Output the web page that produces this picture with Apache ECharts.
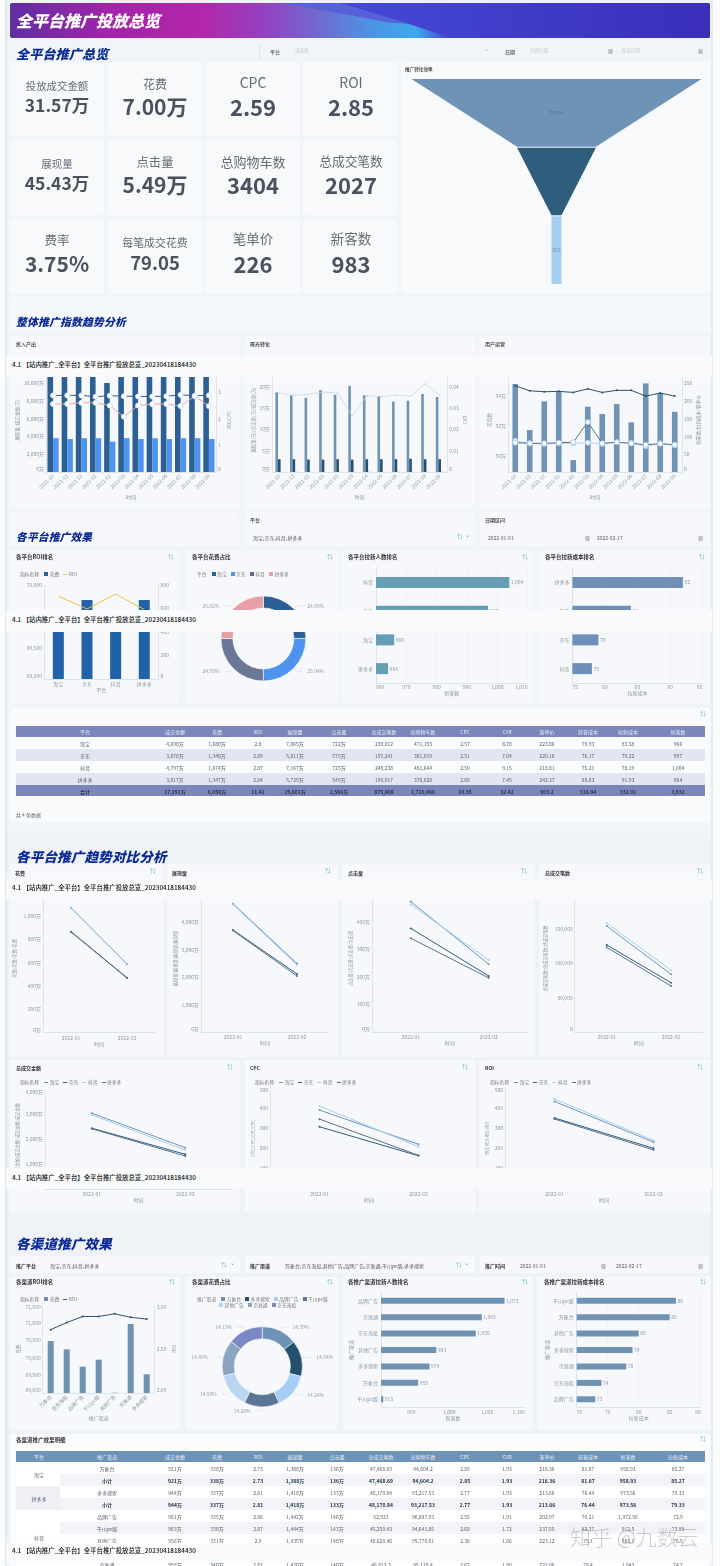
<!DOCTYPE html>
<html><head><meta charset="utf-8">
<script src="https://cdn.jsdelivr.net/npm/echarts@6/dist/echarts.min.js"></script>
<style>
html,body{margin:0;padding:0;width:720px;height:1566px;overflow:hidden;background:#fbfcfd}
body,div,span{font-family:"Noto Sans CJK SC","Noto Sans",sans-serif}
#root{position:absolute;left:0;top:0;width:720px;height:1566px;overflow:hidden}
#c{position:absolute;left:0;top:0;width:720px;height:1566px;z-index:2}
.a{position:absolute;white-space:nowrap}
.p{position:absolute;background:#f6f8fb;border-radius:2px}
.band{position:absolute;left:6px;width:706px;background:#f8fafc;z-index:3}
.o{z-index:4}
</style></head><body><div id="root"><div id="c"></div></div>
<script>
// ---------- data ----------
const months=['2021-10','2021-11','2021-12','2022-01','2022-02','2022-03','2022-04','2022-05','2022-06','2022-07','2022-08','2022-09'];
const platforms=['淘宝','京东','抖音','拼多多'];
const trendMonths=['2022-01','2022-02'];
const kpiLabels=['投放成交金额','花费','CPC','ROI','展现量','点击量','总购物车数','总成交笔数','费率','每笔成交花费','笔单价','新客数'];
const kpiValues=['31.57万','7.00万','2.59','2.85','45.43万','5.49万','3404','2027','3.75%','79.05','226','983'];
const funnelNames=['展现量','点击量','成交'];
const funnelValues=[70004,17800,802];
const revenue=[10900,10900,10900,10900,10000,10900,10900,10900,10900,10900,10900,10900];
const spend=[3800,3700,3800,3800,3400,3800,3700,3800,3700,3800,3800,3700];
const roiA=[2.88,2.88,2.88,2.83,2.87,2.85,2.84,2.84,2.85,2.9,2.87,2.88];
const roiB=[2.56,2.56,2.6,2.6,2.5,2.08,2.5,2.55,2.56,2.48,2.85,2.48];
const impressions=[18.7,18,17.4,19.2,18.1,20.2,18,17.8,16.5,16.7,18.3,17.6];
const clicks=[3,3,2.9,2.9,3,2.9,3,3,3,3.1,3,3];
const orders=[0.1,0.1,0.1,0.1,0.1,0.1,0.1,0.1,0.1,0.1,0.1,0.1];
const cvrLine=[0.037,0.036,0.0365,0.0375,0.037,0.0264,0.0358,0.0353,0.0361,0.0355,0.0413,0.0361];
const activeUsers=[54.77,51.72,53.62,54.26,49.73,53.26,52.78,53.44,52.23,54.81,54.15,52.93];
const activeTicks=[50,52,54];
const opsA=[243.8,229.6,226.8,228,225,235,225,230.8,230.8,214.7,223,214.7];
const opsB=[82.8,81,81,82.8,84,141,81,84,81,77,80,77];
const opsC=[88,81,79,81,81,82.8,79,84,82.8,73,81,75];
const platformSpend=[70000,70260,70000,70260];
const platformRoi=[706,596,723,591];
const platformShare=[24.99,25.04,24.95,25.02];
const newUserPlatforms=['抖音','京东','淘宝','拼多多'];
const newUserCounts=[1004,997,966,964];
const newCostPlatforms=['拼多多','淘宝','京东','抖音'];
const newCosts=[92,84,79,78];
const platformHeader=['平台','成交金额','花费','ROI','展现量','点击量','总成交笔数','总购物车数','CPC','CVR','客单价','获客成本','拉新成本','新客数'];
const platformRows=[
['淘宝','4,698万','1,680万','2.8','7,065万','722万','239,012','471,193','2.57','8.78','223.86','79.93','83.58','966'],
['京东','3,878万','1,348万','2.89','5,811万','575万','197,241','381,019','2.51','7.04','220.16','76.17','79.22','997'],
['抖音','4,797万','1,674万','2.87','7,167万','725万','248,238','481,644','2.59','9.15','218.81','75.21','78.19','1,004'],
['拼多多','3,817万','1,347万','2.84','5,729万','549万','190,917','378,628','2.68','7.45','242.37','85.63','91.93','964'],
['合计','17,191万','6,050万','11.41','25,601万','2,566万','875,408','1,710,466','10.35','32.42','903.2','316.94','332.91','3,932']];
const trendSpend=[[1074,589],[868,470],[1070,585],[865,468]];
const trendImpr=[[4680,2500],[3722,2117],[4650,2445],[3700,2044]];
const trendClicks=[[474,247],[377,204],[464,262],[341,197]];
const trendOrders=[[154000,84000],[126500,71700],[158000,90000],[123000,67000]];
const trendRevenue=[[3044,1657],[2440,1391],[2976,1565],[2420,1322]];
const trendCpc=[[390,220],[307,163],[410,208],[345,165]];
const trendRoi=[[433,231],[351,200],[445,239],[346,192]];
const channels=['万象台','京东海投','品牌广告','千川pc版','其他广告','京准通','多多搜索'];
const channelSpend=[70477,70241,69748,69946,69008,70960,69531];
const channelRoi=[2.72,2.80,2.87,2.87,2.90,2.86,2.84];
const shareChannels=['万象台','多多搜索','品牌广告','千川pc版','其他广告','京准通','京东海投'];
const channelShare=[14.39,14.54,14.24,14.28,14.00,14.49,14.19];
const newUserChannels=['品牌广告','京准通','京东海投','其他广告','多多搜索','万象台','千川pc版'];
const channelNewUsers=[1073,1043,1035,983,974,959,913];
const newUserTicks=[950,1000,1050,1100];
const newCostChannels=['千川pc版','万象台','其他广告','多多搜索','京准通','京东海投','品牌广告'];
const channelNewCosts=[86,85,80,79,78,74,73];
const channelHeader=['平台','推广渠道','成交金额','花费','ROI','展现量','点击量','总成交笔数','总购物车数','CPC','CVR','客单价','获客成本','新客数','拉新成本'];
const channelRows=[
['','万象台','921万','338万','2.73','1,388万','136万','47,468.69','94,604.2','2.85','1.93','216.36','81.67','958.93','85.27'],
['','小计','921万','338万','2.73','1,388万','136万','47,468.69','94,604.2','2.85','1.93','216.36','81.67','958.93','85.27'],
['','多多搜索','944万','337万','2.81','1,418万','133万','48,170.84','93,217.53','2.77','1.93','213.66','76.44','973.56','79.33'],
['','小计','944万','337万','2.81','1,418万','133万','48,170.84','93,217.53','2.77','1.93','213.66','76.44','973.56','79.33'],
['','品牌广告','981万','335万','2.88','1,442万','146万','52,923','96,807.93','2.55','1.91','202.97','70.21','1,072.56','72.9'],
['','千川pc版','963万','338万','2.87','1,444万','143万','45,259.43','94,641.85','2.68','1.72','237.55','82.37','912.5','73.89'],
['','其他广告','956万','331万','2.9','1,435万','148万','48,620.46','95,770.61','2.38','1.66','223.12','75.1','983.1','76.5'],
['','小计','2,900万','1,004万','2.88','4,321万','437万','146,803','287,220','2.54','1.76','218.5','76.2','2,968','75.1'],
['','京准通','958万','340万','2.82','1,420万','140万','46,812.3','95,120.4','2.62','1.80','221.06','78.4','1,043','74.2']];

// ---------- page helpers ----------
const root=document.getElementById('root');
const FONT='"Noto Sans CJK SC"';
const AX='#8d96a5', AXL='#dfe4ea', SPL='#eef1f5';
function box(x0,y0,x1,y1,bg,z){const d=document.createElement('div');d.className='p';d.style.cssText=`left:${x0}px;top:${y0}px;width:${x1-x0}px;height:${y1-y0}px;`+(bg?`background:${bg};`:'')+(z?`z-index:${z};`:'');root.appendChild(d);return d;}
function txt(s,x,y,size,color,opt={}){const d=document.createElement('div');d.className='a';
 const tx=opt.align==='center'?'-50%':opt.align==='right'?'-100%':'0';
 d.style.cssText=`left:${x}px;top:${y}px;font-size:${size}px;color:${color};line-height:1;transform:translate(${tx},-50%);z-index:${opt.z||3};font-weight:${opt.w||400};font-style:${opt.i?'italic':'normal'};`+(opt.css||'');
 d.textContent=s;root.appendChild(d);return d;}
function sect(s,x,y,size){txt(s,x,y,size,'#0b2a94',{w:900,i:true,css:'letter-spacing:.2px;'});}
function panelTitle(s,x,y){txt(s,x,y,5.5,'#333',{w:700});}
function toggle(x,y){txt('⇅',x,y,6,'#72c4b6',{align:'center'});}
function legend(x,y,title,items){let cx=x;txt(title,cx,y,4.8,'#777');cx+=title.length*4.8+5;
 items.forEach(it=>{if(it.nl){cx=it.nl;y+=6;}
  const m=document.createElement('div');m.className='a';
  m.style.cssText=it.line?`left:${cx}px;top:${y-.5}px;width:4px;height:1px;background:${it.c};z-index:3`:`left:${cx}px;top:${y-2}px;width:4px;height:4px;background:${it.c};z-index:3`;
  root.appendChild(m);txt(it.n,cx+5.5,y,4.8,'#777');cx+=5.5+it.n.length*4.8+4;});}
function band(y0,y1,ty){const d=document.createElement('div');d.className='band';d.style.top=y0+'px';d.style.height=(y1-y0)+'px';root.appendChild(d);
 txt('4.1 【站内推广_全平台】全平台推广投放总览_20230418184430',12,ty,6.4,'#111',{z:4,w:500});}
function grid(x0,x1,top,heights,centers,header,rows,headBg,rowBg,bold){
 let y=top;const hdr=box(x0,y,x1,y+heights[0],headBg,2);hdr.style.borderRadius=0;
 header.forEach((h,i)=>txt(h,centers[i],y+heights[0]/2,5,'#e8ebf5',{align:'center'}));
 y+=heights[0];
 rows.forEach((r,ri)=>{const h=heights[1];const bg=box(x0,y,x1,y+h,rowBg(ri),1);bg.style.borderRadius=0;
  r.forEach((c,i)=>{if(c!=='')txt(c,centers[i],y+h/2,5,bold(ri)?'#26304a':'#555c6a',{align:'center',w:bold(ri)?700:400});});y+=h;});
}

// ---------- static layout ----------
box(5,0,7,1566,'#e4e8ee');box(711,0,713,1566,'#e8ebf0');
const inner=box(7,0,711,1566,'#eff3f7');inner.style.borderRadius=0;
const up=box(7,40,711,835,'#f1f4f8');up.style.borderRadius=0;
// title banner
const banner=box(10,3,710,38);banner.style.cssText+='background:linear-gradient(90deg,#5f2ea0 0%,#a224a9 14%,#b326a9 27%,#9540bf 36%,#6c6ed2 45%,#4a96e4 52%,#3fa8ec 58%,#4a4ed8 62%,#3b3fd0 85%,#3a2db8 100%);overflow:hidden;border-radius:2px;';
banner.innerHTML='<div style="position:absolute;inset:0;background:linear-gradient(90deg,#5050d8,#4448d4 50%,#3a2eba);clip-path:polygon(47% 0,100% 0,100% 100%,63% 100%,57% 60%)"></div><div style="position:absolute;inset:0;background:linear-gradient(90deg,#5a62d8,#5260da);clip-path:polygon(39% 0,47% 0,57% 60%,54% 55%)"></div>';
txt('全平台推广投放总览',16,20,16,'#fff',{w:900,i:true,z:4});
sect('全平台推广总览',16,52.5,13);
// top filter
box(259,44,259.6,60,'#dde2e8');
txt('平台',270,51,5,'#555',{w:500});txt('请选择',295,50,4.5,'#c6ccd4');txt('⌄',484,49,6,'#aaa');
txt('日期',505,51,5,'#555',{w:500});txt('开始日期',530,50,4.5,'#c6ccd4');txt('▦',608,50,5,'#777');txt('-',615,50,5,'#999');txt('结束日期',622,50,4.5,'#c6ccd4');txt('▦',698,50,5,'#777');
// KPI cards
const kx=[[10,104],[108,202],[205,300],[303,397]],ky=[[62,136],[140,215],[219,294]];
const labelFs=[10.4,12,14,14,10.5,12.3,13,12.7,12.5,10.9,13.3,13.6];
const valueFs=[17.5,21,22,22,17.5,21,22,22,21,18.5,22,22];
const labelY=[86,84,82,82,164,162,161,161,240,242,239,239];
const valueY=[105,106,106,106,183,184,184,184,263,262,263,263];
kpiLabels.forEach((l,i)=>{const c=i%4,r=Math.floor(i/4);box(kx[c][0],ky[r][0],kx[c][1],ky[r][1],'#f7f9fb');
 const xc=[57,155,253,351][c];
 txt(l,xc,labelY[i],labelFs[i],'#666c76',{align:'center'});
 txt(kpiValues[i],xc,valueY[i],valueFs[i],'#4a5260',{align:'center',w:600});});
box(401,62,710,294,'#f7f9fb');txt('推广转化效率',405,69,4.6,'#333',{w:500});
// section 2
box(10,296,710,332,'#f5f8fb');sect('整体推广指数趋势分析',16,321,10.8);
box(10,336,240,508);box(245,336,475,508);box(479,336,710,508);
txt('投入产出',16,343,5,'#333',{w:500});txt('曝光转化',250,343,5,'#333',{w:500});txt('用户运营',485,343,5,'#333',{w:500});
// section 3
box(10,512,239,546);box(245,512,475,546);box(480,512,710,546);
sect('各平台推广效果',16,537,10.7);
txt('平台',250,519,5,'#333',{w:500});txt('淘宝,京东,抖音,拼多多',253,537,5,'#555');txt('⌄',465,535,6,'#888');txt('⇅',457,537,6,'#72c4b6');
txt('日期区间',485,519,5,'#333',{w:500});txt('2022-01-01',488,537,5,'#555');txt('▦',585,537,5,'#777');txt('-',592,537,5,'#888');txt('2022-02-17',597,537,5,'#555');txt('▦',698,537,5,'#777');
[[10,179],[186,338],[342,533],[539,710]].forEach(([a,b])=>{box(a,551,b,704);toggle(b-8,557);});
panelTitle('各平台ROI排名',16,558);panelTitle('各平台花费占比',192,558);panelTitle('各平台拉新人数排名',348,558);panelTitle('各平台拉新成本排名',545,558);
legend(20,574,'指标名称',[{n:'花费',c:'#1f62a8'},{n:'ROI',c:'#f0c040',line:1}]);
legend(197,574,'平台',[{n:'淘宝',c:'#2c5f93'},{n:'京东',c:'#4e94ee'},{n:'抖音',c:'#5b6a8a'},{n:'拼多多',c:'#e8a0a8'}]);
// platform table
box(10,708,710,822,'#f8fafc');toggle(703,714);
grid(16,705,725.7,[11.3,11.9],[85,175,217,258,295,339,384,423,465,507,547,588,628,678],platformHeader,platformRows,'#7b87bb',r=>r===4?'#7b87bb':r%2?'#e3e6f0':'#fbfcfd',r=>r===4);
txt('共 4 条数据',16,814,5,'#666');
// section 4
sect('各平台推广趋势对比分析',16,857,13.5);
[[10,163],[167,338],[342,534],[539,710]].forEach(([a,b])=>{box(a,864,b,1057);toggle(b-10,871);});
txt('花费',15,872,5,'#333',{w:600});txt('展现量',172,872,5,'#333',{w:600});txt('点击量',348,872,5,'#333',{w:600});txt('总成交笔数',545,872,5,'#333',{w:600});
[[10,240],[245,475],[479,710]].forEach(([a,b])=>{box(a,1060,b,1213);toggle(b-10,1067);});
txt('总成交金额',16,1067,5,'#333',{w:600});txt('CPC',250,1067,5,'#333',{w:600});txt('ROI',485,1067,5,'#333',{w:600});
const lineColors=['#6f93b5','#2f5d7c','#a5cef5','#5c6f88'];
[20,255,490].forEach(x=>legend(x,1082,'指标名称',platforms.map((n,i)=>({n,c:lineColors[i],line:1}))));
// section 5
sect('各渠道推广效果',16,1244,13.5);
box(10,1256,240,1273);box(245,1256,475,1273);box(480,1256,708,1273);
txt('推广平台',16,1265,5,'#333',{w:700});txt('淘宝,京东,抖音,拼多多',50,1264.5,5,'#555');txt('⌄',230,1263,6,'#888');txt('⇅',221,1265,6,'#72c4b6');
txt('推广渠道',250,1265,5,'#333',{w:700});txt('万象台,京东海投,其他广告,品牌广告,京准通,千川pc版,多多搜索',285,1264.5,5,'#555');txt('⌄',464,1263,6,'#888');txt('⇅',456,1265,6,'#72c4b6');
txt('推广时间',485,1265,5,'#333',{w:700});txt('2022-01-01',520,1264.5,5,'#555');txt('▦',601,1265,5,'#777');txt('-',610,1265,5,'#888');txt('2022-02-17',616,1264.5,5,'#555');txt('▦',698,1265,5,'#777');
[[10,180],[186,338],[343,533],[537,711]].forEach(([a,b])=>{box(a,1277,b,1430);toggle(b-8,1282);});
panelTitle('各渠道ROI排名',16,1283);panelTitle('各渠道花费占比',192,1283);panelTitle('各推广渠道拉新人数排名',348,1283);panelTitle('各推广渠道拉新成本排名',544,1283);
legend(20,1299,'指标名称',[{n:'花费',c:'#6f93b5'},{n:'ROI',c:'#2f4f6a',line:1}]);
const shareColors=['#6f93b5','#24506e','#a5cef5','#5b7594','#bcd5ee','#8aa5bf','#7b88c4'];
legend(197,1299,'推广渠道',[...shareChannels.map((n,i)=>({n,c:shareColors[i],nl:i===4?219:0}))]);
// channel table
box(10,1434,710,1566,'#f9fbfc');toggle(703,1439);txt('各渠道推广效果明细',16,1441,5.5,'#333',{w:700});
grid(16,705,1450.7,[11,12],[39,107,175,217,258,295,337,381,423,465,507,547,588,628,678],channelHeader,channelRows,'#6d93b8',r=>r%2?'#f1f3f7':'#ffffff',r=>r===1||r===3||r===7);
[['淘宝',1461.7,1485.7,'#ffffff'],['拼多多',1485.7,1509.7,'#eef0f5'],['抖音',1509.7,1570,'#ffffff']].forEach(([s,a,b,bg])=>{const d=box(16,a,60,b,bg,2);d.style.borderRadius=0;txt(s,39,(a+b)/2-(s==='抖音'?3:0),5,'#555c6a',{align:'center'});});
txt('知乎 @九数云',570,1536,21,'rgba(120,125,135,.38)',{z:5,css:'font-weight:300;'});
band(356,377,365);band(610,632,620);band(879,899,888);band(1168,1189,1178);band(1543,1563,1551);

// ---------- chart option ----------
const opt={animation:false,textStyle:{fontFamily:FONT},tooltip:{show:false},grid:[],xAxis:[],yAxis:[],series:[]};
function yAxis(o){const iv=o.interval,fmt=o.fmt||(v=>v.toLocaleString('en-US'));
 return {type:'value',min:o.min,max:o.max,interval:iv,position:o.pos||'left',name:o.name||'',nameLocation:'middle',nameGap:o.gap||20,
  nameTextStyle:{color:AX,fontSize:o.nfs||4.6},
  axisLine:{show:o.line!==false,lineStyle:{color:AXL}},axisTick:{show:false},
  splitLine:{show:!!o.split,lineStyle:{color:SPL,width:.6}},
  axisLabel:{color:AX,fontSize:5,margin:2,customValues:o.ticks,
   verticalAlignMinLabel:o.ticks?undefined:'bottom',verticalAlignMaxLabel:o.maxTop?'top':undefined,
   formatter:v=>{if(o.ticks)return fmt(v);const k=v/iv;return Math.abs(k-Math.round(k))<1e-6?fmt(v):'';}}};}
function catAxis(data,o={}){return {type:'category',data,name:o.name||'',nameLocation:'middle',nameGap:o.gap||11,nameTextStyle:{color:AX,fontSize:5},
  axisLine:{lineStyle:{color:AXL}},axisTick:{show:false},axisLabel:{color:AX,fontSize:5,margin:o.margin||3,rotate:o.rotate||0,interval:0}};}
function cart(r,x,ys,series){const g=opt.grid.length,xi=opt.xAxis.length,yi=opt.yAxis.length;
 opt.grid.push({left:r[0],top:r[1],width:r[2]-r[0],height:r[3]-r[1]});
 opt.xAxis.push(Object.assign(x,{gridIndex:g}));ys.forEach(y=>opt.yAxis.push(Object.assign(y,{gridIndex:g})));
 series.forEach(s=>{const idx=s.yi||0;delete s.yi;opt.series.push(Object.assign(s,{xAxisIndex:xi,yAxisIndex:yi+idx}));});}
const bar=(name,data,color,w,o={})=>Object.assign({type:'bar',name,data,barWidth:w,barGap:0,itemStyle:{color},silent:true},o);
const line=(name,data,color,o={})=>Object.assign({type:'line',name,data,lineStyle:{color,width:1},itemStyle:{color},symbol:'circle',symbolSize:2,z:5},o);
const ringLine=(name,data,color,ringColor)=>line(name,data,color,{symbolSize:5,itemStyle:{color:'#fff',borderColor:ringColor,borderWidth:1},lineStyle:{color,width:1}});

// funnel
opt.series.push({type:'funnel',name:'推广转化效率',left:411.5,top:79,width:290,height:205,sort:'none',gap:1,min:802,max:70004,minSize:10,maxSize:290,funnelAlign:'center',
 label:{position:'inside',color:'rgba(70,90,115,.55)',fontSize:5,formatter:p=>p.dataIndex===1?'':String(p.value)},labelLine:{show:false},
 itemStyle:{borderWidth:0},
 data:funnelNames.map((name,i)=>({name,value:funnelValues[i],itemStyle:{color:['#6f93b5','#2f5d7c','#a5cef5'][i]}}))});

// trend row
cart([46,368,216,472],catAxis(months,{rotate:45,name:'时间',gap:23}),
 [yAxis({min:0,max:11685,interval:2000,fmt:v=>v.toLocaleString('en-US')+'万',name:'展现量/成交金额(万)',gap:24}),
  yAxis({min:0,max:3.91,interval:1,pos:'right',name:'ROI/CPC',gap:11,fmt:v=>String(v)})],
 [bar('成交金额',revenue,'#2c5f93',5.6),bar('花费',spend,'#4e94ee',5.6),
  ringLine('ROI',roiA,'#3d5a78','#dbe8f5'),ringLine('费率',roiB,'#e8a6a8','#dbe8f5')].map((s,i)=>{if(i>1)s.yi=1;return s;}));
cart([272,368,447,472],catAxis(months,{rotate:45,name:'时间',gap:23}),
 [yAxis({min:0,max:24.4,interval:5,fmt:v=>v+'万',name:'展现量(万)/点击量(万)/成交量(万)',gap:14,nfs:4.4}),
  yAxis({min:0,max:0.0488,interval:0.01,pos:'right',name:'CVR',gap:14,fmt:v=>v===0?'0':v.toFixed(2)})],
 [bar('展现量',impressions,'#6f93b5',2.6),bar('点击量',clicks,'#24506e',2.6),bar('成交量',orders,'#a5cef5',2.6),
  Object.assign(line('CVR',cvrLine,'#c9d7e6',{symbolSize:1.5,lineStyle:{color:'#c9d7e6',width:.8}}),{yi:1})]);
cart([508,368,682,472],catAxis(months,{rotate:45,name:'时间',gap:23}),
 [yAxis({min:48.94,max:55.83,interval:2,ticks:activeTicks,fmt:v=>v+'万',name:'活跃数',gap:13}),
  yAxis({min:0,max:294,interval:50,pos:'right',name:'新客数/拉新成本/客单价',gap:14,fmt:v=>String(v)})],
 [bar('活跃用户',activeUsers,'#6f93b5',5.6),
  Object.assign(line('客单价',opsA,'#2f4f6a'),{yi:1}),
  Object.assign(ringLine('拉新成本',opsC,'#b9d3ea','#a9cdf0'),{yi:1}),
  Object.assign(ringLine('获客成本',opsB,'#5a6d80','#a9cdf0'),{yi:1})]);

// platform row
cart([44,585,158.6,679],catAxis(platforms,{name:'平台',gap:9}),
 [yAxis({min:69000,max:70500,interval:500}),
  yAxis({min:0,max:800,interval:200,pos:'right',fmt:v=>String(v)})],
 [bar('花费',platformSpend,'#1f62a8',11),Object.assign(line('ROI',platformRoi,'#f0c040',{symbol:'none'}),{yi:1})]);
function pie(name,names,vals,colors,center,radius){opt.series.push({type:'pie',name,center,radius,startAngle:90,clockwise:true,avoidLabelOverlap:false,
 label:{color:'#98a0ad',fontSize:5,formatter:p=>vals[p.dataIndex].toFixed(2)+'%'},labelLine:{length:4,length2:6,lineStyle:{color:'#d5dae1',width:.5}},
 itemStyle:{borderColor:'#f6f8fb',borderWidth:.6},data:names.map((n,i)=>({name:n,value:vals[i],itemStyle:{color:colors[i]}}))});}
pie('花费占比',platforms,platformShare,['#2c5f93','#4e94ee','#6b7796','#e8a0a8'],[263.4,638.5],[30.5,42.5]);
function hbars(r,cats,vals,color,xo,barW,catName){
 const lbl=v=>v.toLocaleString('en-US');
 cart(r,Object.assign(yAxis({min:xo.min,max:xo.max,interval:xo.interval,split:!xo.ticks}),{position:'bottom',name:xo.name,nameLocation:'middle',nameGap:xo.gap||8,nameTextStyle:{color:AX,fontSize:5},
   axisLine:{show:true,lineStyle:{color:AXL}},
   axisLabel:{color:AX,fontSize:5,margin:2,customValues:xo.ticks,alignMinLabel:xo.alignMin?'left':undefined,alignMaxLabel:'right',formatter:v=>{if(xo.ticks)return lbl(v);const k=v/xo.interval;return Math.abs(k-Math.round(k))<1e-6?lbl(v):'';}}}),
  [Object.assign(catAxis(cats,{name:catName||'',gap:22}),{inverse:true,axisLabel:{color:AX,fontSize:5,margin:3,interval:0}})],
  [bar(xo.name,vals,color,barW,{label:{show:true,position:'right',color:AX,fontSize:5,distance:1.5,formatter:p=>p.value.toLocaleString('en-US')}})]);}
hbars([376,568,527.5,683],newUserPlatforms,newUserCounts,'#659eb5',{min:960,max:1010,interval:10,name:'新客数',alignMin:true},11);
hbars([572.4,568,702.4,683],newCostPlatforms,newCosts,'#6e8fb8',{min:75,max:95,interval:5,name:'拉新成本',alignMin:true},11);

// trend compare rows
function trend(r,rows,o){cart(r,catAxis(trendMonths,{name:'时间',gap:o.xgap||9}),
 [yAxis({min:0,max:o.max,interval:o.interval,fmt:o.fmt,name:o.name,gap:o.gap,nfs:4.2,maxTop:o.maxTop})],
 rows.map((d,i)=>line(platforms[i],d,lineColors[i])));}
const wan=v=>v.toLocaleString('en-US')+'万';
trend([43,885,155,1032.3],trendSpend,{max:1270,interval:200,fmt:wan,name:'花费/花费/花费/花费',gap:26});
trend([201,885,329,1032],trendImpr,{max:5365,interval:1000,fmt:wan,name:'展现量/展现量/展现量/展现量',gap:22});
trend([372,885,527.5,1032],trendClicks,{max:535,interval:100,fmt:wan,name:'点击量/点击量/点击量/点击量',gap:17});
trend([574.7,885,703,1032],trendOrders,{max:213660,interval:50000,name:'总成交笔数/总成交笔数/总成交笔数',gap:27});
trend([45,1089.5,232,1188.8],trendRevenue,{max:4000,interval:1000,fmt:wan,name:'成交金额/成交金额/成交金额/成交金额',gap:25,maxTop:true,xgap:8});
trend([270,1088,468,1188.5],trendCpc,{max:500,interval:100,name:'CPC/CPC/CPC/CPC',gap:13,maxTop:true,xgap:8});
trend([505,1088,703,1188.5],trendRoi,{max:500,interval:100,name:'ROI/ROI/ROI/ROI',gap:15,maxTop:true,xgap:8});

// channel row
cart([42.7,1305,154.7,1393],catAxis(channels,{rotate:45,name:'推广渠道',gap:23}),
 [yAxis({min:69000,max:71500,interval:500,maxTop:true,name:'花费',gap:22}),
  yAxis({min:2,max:3,interval:0.5,pos:'right',maxTop:true,name:'ROI',gap:17,fmt:v=>v.toFixed(2)})],
 [bar('花费',channelSpend,'#6f93b5',6),Object.assign(line('ROI',channelRoi,'#2f4f6a'),{yi:1})]);
pie('渠道花费占比',shareChannels,channelShare,shareColors,[262.3,1366.7],[28,40]);
hbars([381,1292.5,525,1407.5],newUserChannels,channelNewUsers,'#6f93b5',{min:910,max:1100,interval:10,ticks:newUserTicks,name:'新客数',gap:7},6,'推广渠道');
hbars([576.7,1292.5,700.7,1407.5],newCostChannels,channelNewCosts,'#6f93b5',{min:70,max:90,interval:5,name:'拉新成本',gap:7,alignMin:true},6,'推广渠道');

const chart=echarts.init(document.getElementById('c'),null,{width:720,height:1566,renderer:'canvas'});
chart.setOption(opt);
</script></body></html>
